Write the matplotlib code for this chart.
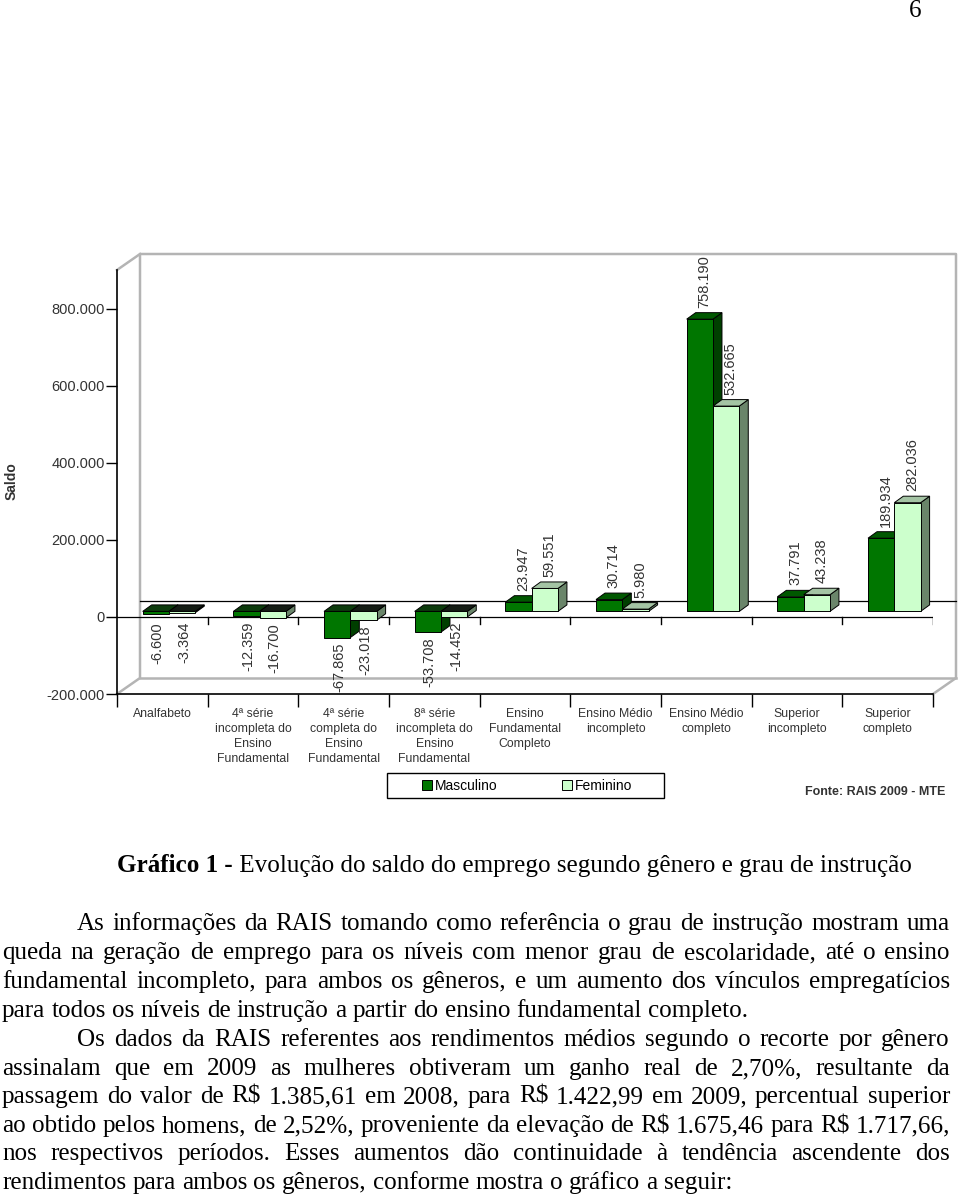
import matplotlib
matplotlib.use("Agg")
import matplotlib.pyplot as plt
import numpy as np
from matplotlib import font_manager
from matplotlib.patches import Polygon, Rectangle, Patch

W, H = 960, 1196

categorias = [
    "Analfabeto",
    "4ª série\nincompleta do\nEnsino\nFundamental",
    "4ª série\ncompleta do\nEnsino\nFundamental",
    "8ª série\nincompleta do\nEnsino\nFundamental",
    "Ensino\nFundamental\nCompleto",
    "Ensino Médio\nincompleto",
    "Ensino Médio\ncompleto",
    "Superior\nincompleto",
    "Superior\ncompleto",
]
masculino = [-6600, -12359, -67865, -53708, 23947, 30714, 758190, 37791, 189934]
feminino = [-3364, -16700, -23018, -14452, 59551, 5980, 532665, 43238, 282036]
yticks = [-200000, 0, 200000, 400000, 600000, 800000]

legenda = ["Masculino", "Feminino"]
fonte = "Fonte: RAIS 2009 - MTE"
caption_bold = "Gráfico 1 -"
caption_rest = " Evolução do saldo do emprego segundo gênero e grau de instrução"
paragrafo_1 = [
    "As informações da RAIS tomando como referência o grau de instrução mostram uma",
    "queda na geração de emprego para os níveis com menor grau de escolaridade, até o ensino",
    "fundamental incompleto, para ambos os gêneros, e um aumento dos vínculos empregatícios",
    "para todos os níveis de instrução a partir do ensino fundamental completo.",
]
paragrafo_2 = [
    "Os dados da RAIS referentes aos rendimentos médios segundo o recorte por gênero",
    "assinalam que em 2009 as mulheres obtiveram um ganho real de 2,70%, resultante da",
    "passagem do valor de R$ 1.385,61 em 2008, para R$ 1.422,99 em 2009, percentual superior",
    "ao obtido pelos homens, de 2,52%, proveniente da elevação de R$ 1.675,46 para R$ 1.717,66,",
    "nos respectivos períodos. Esses aumentos dão continuidade à tendência ascendente dos",
    "rendimentos para ambos os gêneros, conforme mostra o gráfico a seguir:",
]

installed = {f.name for f in font_manager.fontManager.ttflist}
NARROW = "Liberation Sans Narrow" if "Liberation Sans Narrow" in installed else "Liberation Sans"
SANS = "Liberation Sans"
SERIF = "Liberation Serif"

M_FRONT, M_TOP, M_SIDE = "#007600", "#005800", "#003f00"
F_FRONT, F_TOP, F_SIDE = "#ccffcc", "#a4c4a4", "#6a856a"
NEG_TOP = {"m": "#0b3a0b", "f": "#141c14"}
GRAY = "#b4b4b4"
LABEL = "#333333"


def fmt(v):
    return f"{v:,}".replace(",", ".")


fig = plt.figure(figsize=(W / 100, H / 100), dpi=100)
fig.patch.set_facecolor("white")

# front plane of the chart, in pixels
L, R, T, B = 117, 933, 270, 694
ax = fig.add_axes([L / W, 1 - B / H, (R - L) / W, (B - T) / H])
ax.set_xlim(-0.5, 8.5)
ax.set_ylim(-200000, 900000)
ax.patch.set_visible(False)

sx = 9 / (R - L)
sy = 1100000 / (B - T)


def off(px_x, px_y):
    return px_x * sx, px_y * sy


wx, wy = off(23, 16)   # depth of the walls
bx, by = off(8, 5.5)   # where the bars start in depth
dx, dy = off(9, 6.5)   # depth of a bar
x0, x1 = ax.get_xlim()
y0, y1 = ax.get_ylim()

# back wall / floor / left wall outline
ax.plot([x0, x0 + wx, x0 + wx, x1 + wx, x1 + wx, x1],
        [y0, y0 + wy, y1 + wy, y1 + wy, y0 + wy, y0],
        color=GRAY, lw=1.8, clip_on=False, zorder=1)
ax.plot([x0 + wx, x1 + wx], [y0 + wy, y0 + wy], color=GRAY, lw=1.8, clip_on=False, zorder=1)
ax.plot([x0, x0 + wx], [y1, y1 + wy], color=GRAY, lw=1.8, clip_on=False, zorder=1)

# zero plane: back line and front line with ticks
ax.plot([x0 + wx, x1 + wx], [wy, wy], color="black", lw=0.9, clip_on=False, zorder=1)
ax.plot([x0, x1], [0, 0], color="black", lw=0.9, zorder=1)
for b in np.arange(0.5, 9, 1):
    ax.plot([b, b], [0, -7 * sy], color="black", lw=1, zorder=1)

w = 0.29
starts = {"m": -0.305, "f": -0.015}
colors = {"m": (M_FRONT, M_TOP, M_SIDE), "f": (F_FRONT, F_TOP, F_SIDE)}

for i in range(len(categorias)):
    for key, vals in (("m", masculino), ("f", feminino)):
        v = vals[i]
        front, top, side = colors[key]
        xf = i + starts[key] + bx
        ytop = max(v, 0) + by
        ybot = min(v, 0) + by
        # side face
        ax.add_patch(Polygon([(xf + w, ybot), (xf + w + dx, ybot + dy),
                              (xf + w + dx, ytop + dy), (xf + w, ytop)],
                             facecolor=side, edgecolor="black", lw=0.7, zorder=3))
        # top face
        ax.add_patch(Polygon([(xf, ytop), (xf + w, ytop), (xf + w + dx, ytop + dy), (xf + dx, ytop + dy)],
                             facecolor=top if v >= 0 else NEG_TOP[key],
                             edgecolor="black", lw=0.7, zorder=3))
        # front face
        ax.add_patch(Rectangle((xf, ybot), w, ytop - ybot, facecolor=front,
                               edgecolor="black", lw=0.7, zorder=3))
        if v >= 0:
            ax.text(xf + w / 2 + dx / 2, ytop + dy + 5 * sy, fmt(v), rotation=90,
                    ha="center", va="bottom", fontsize=10.5, family=SANS, color=LABEL, zorder=4)
        else:
            ax.text(xf + w / 2 + 2 * sx, min(ybot - 5 * sy, -5 * sy), fmt(v), rotation=90,
                    ha="center", va="top", fontsize=10.5, family=SANS, color=LABEL, zorder=4)

for s in ("top", "right"):
    ax.spines[s].set_visible(False)
for s in ("left", "bottom"):
    ax.spines[s].set_linewidth(1.2)

ax.set_yticks(yticks)
ax.set_yticklabels([fmt(v) for v in yticks])
ax.tick_params(axis="y", direction="out", length=8, width=1, labelsize=10.5,
               labelcolor=LABEL, pad=1)
for t in ax.get_yticklabels():
    t.set_family(SANS)
ax.set_xticks(np.arange(-0.5, 9, 1))
ax.set_xticklabels([])
ax.set_xticks(range(len(categorias)), minor=True)
ax.set_xticklabels(categorias, minor=True, fontsize=8.8, family=NARROW,
                   color=LABEL, linespacing=1.32, va="top")
ax.tick_params(axis="x", which="major", direction="out", length=9, width=1)
ax.tick_params(axis="x", which="minor", length=0, pad=10)

ax.set_ylabel("Saldo", fontsize=10, weight="bold", family=SANS, color=LABEL, va="center")
ax.yaxis.set_label_coords(-105 / (R - L), (B - 481) / (B - T))

# legend with a plain box around it
handles = [Patch(facecolor=M_FRONT, edgecolor="black", lw=0.7),
           Patch(facecolor=F_FRONT, edgecolor="black", lw=0.7)]
fig.legend(handles, legenda, loc="center", bbox_to_anchor=(527 / W, 1 - 786 / H),
           ncol=2, frameon=False, handlelength=0.75, handleheight=0.75,
           handletextpad=0.2, columnspacing=4.6,
           prop={"family": SANS, "size": 10})
fig.patches.append(Rectangle((387 / W, 1 - 798 / H), 277 / W, 25 / H, transform=fig.transFigure,
                             facecolor="none", edgecolor="black", lw=1))
fig.text(945 / W, 1 - 792 / H, fonte, ha="right", va="center", fontsize=9,
         weight="bold", family=SANS, color=LABEL)

# ---- page text ----
renderer = fig.canvas.get_renderer()


def put(x, y, s, size, weight="normal"):
    return fig.text(x / W, 1 - y / H, s, fontsize=size, family=SERIF, weight=weight,
                    ha="left", va="baseline", parse_math=False)


def width(t):
    return t.get_window_extent(renderer).width


probe_b = put(0, 0, caption_bold, 20, "bold")
probe_r = put(0, 0, caption_rest, 20)
size = 20 * 793 / (width(probe_b) + width(probe_r))
probe_b.remove()
probe_r.remove()

cb = put(117, 872, caption_bold, size, "bold")
put(117 + width(cb), 872, caption_rest, size)

pa, pb = put(0, 0, "x x", size), put(0, 0, "xx", size)
space = width(pa) - width(pb)
pa.remove()
pb.remove()


def line(text, xl, xr, y, justify):
    words = text.split()
    texts = [put(0, y, wd, size) for wd in words]
    ws = [width(t) for t in texts]
    gap = (xr - xl - sum(ws)) / (len(words) - 1) if justify else space
    x = xl
    for t, wd in zip(texts, ws):
        t.set_x(x / W)
        x += wd + gap


baselines = [930, 959, 988, 1017, 1046, 1075, 1103, 1132, 1160, 1189]
rows = paragrafo_1 + paragrafo_2
last = {len(paragrafo_1) - 1, len(rows) - 1}
firsts = {0, len(paragrafo_1)}
for k, (txt, yb) in enumerate(zip(rows, baselines)):
    line(txt, 77 if k in firsts else 2, 950, yb, k not in last)

fig.text(915 / W, 1 - 17 / H, "6", ha="center", va="baseline", fontsize=size, family=SERIF)

fig.savefig("out.png", dpi=100, facecolor="white")
